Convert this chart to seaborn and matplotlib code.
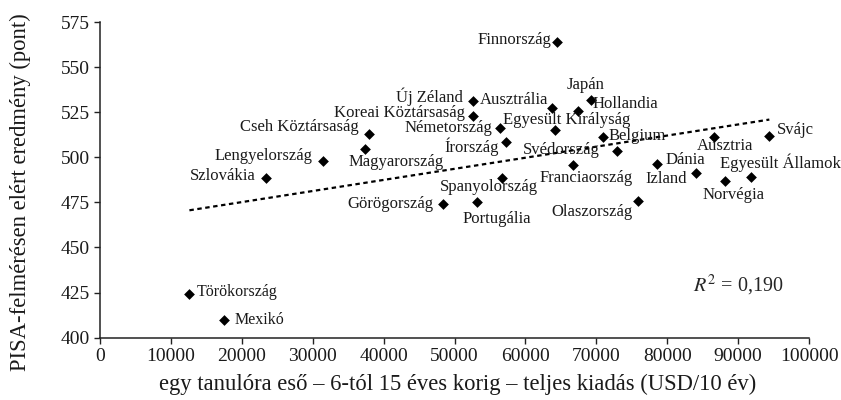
import matplotlib
matplotlib.use("Agg")
import matplotlib.pyplot as plt
import seaborn as sns
import pandas as pd

# --- data ---
countries = [
    "Finnország", "Japán", "Hollandia", "Ausztrália", "Új Zéland",
    "Koreai Köztársaság", "Cseh Köztársaság", "Magyarország", "Lengyelország",
    "Szlovákia", "Németország", "Egyesült Királyság", "Írország", "Belgium",
    "Svédország", "Franciaország", "Spanyolország", "Portugália", "Görögország",
    "Olaszország", "Dánia", "Izland", "Norvégia", "Egyesült Államok",
    "Ausztria", "Svájc", "Törökország", "Mexikó",
]
spending = [
    64500, 69300, 67400, 63800, 52600,
    52600, 37900, 37300, 31400,
    23400, 56400, 64100, 57300, 70900,
    72900, 66700, 56700, 53200, 48400,
    75900, 78600, 84000, 88200, 91800,
    86600, 94400, 12600, 17500,
]
score = [
    564, 532, 525.5, 527.5, 531,
    523, 513, 504.5, 498,
    488.5, 516, 515, 508.5, 511,
    503.5, 495.5, 488.5, 475, 474,
    475.5, 496.5, 491, 487, 489,
    511.5, 512, 424, 410,
]
r2_text = "$R^2$ = 0,190"

df = pd.DataFrame({"country": countries, "spending": spending, "score": score})

# label placement: (ha, dx px, dy px)
label_pos = {
    "Finnország": ("right", -6, 2), "Japán": ("center", -6, 15),
    "Hollandia": ("left", 15, 7), "Ausztrália": ("right", -4, 8),
    "Új Zéland": ("right", -10, 5), "Koreai Köztársaság": ("right", -8, 3),
    "Cseh Köztársaság": ("right", -10, 7), "Magyarország": ("left", -16, -13),
    "Lengyelország": ("right", -10, 5), "Szlovákia": ("right", -10, 2),
    "Németország": ("right", -8, 0), "Egyesült Királyság": ("center", 12, 10),
    "Írország": ("right", -7, -5), "Belgium": ("left", 6, 1),
    "Svédország": ("right", -17, 1), "Franciaország": ("center", 13, -13),
    "Spanyolország": ("center", -13, -9), "Portugália": ("center", 20, -17),
    "Görögország": ("right", -10, 0), "Olaszország": ("right", -6, -11),
    "Dánia": ("left", 8, 4), "Izland": ("right", -9, -6),
    "Norvégia": ("center", 8, -14), "Egyesült Államok": ("center", 30, 14),
    "Ausztria": ("center", 11, -9), "Svájc": ("left", 8, 6),
    "Törökország": ("left", 7, 2), "Mexikó": ("left", 10, 0),
}

sns.set_style("ticks")
plt.rcParams["font.family"] = ["Liberation Serif", "DejaVu Serif"]
plt.rcParams["mathtext.fontset"] = "stix"

fig, ax = plt.subplots(figsize=(8.41, 4.0), dpi=100)
fig.subplots_adjust(left=0.119, right=0.962, top=0.945, bottom=0.156)

sns.regplot(data=df, x="spending", y="score", ax=ax, scatter=False, ci=None,
            truncate=True, color="black",
            line_kws={"linestyle": (0, (2, 1.6)), "linewidth": 1.6})
sns.scatterplot(data=df, x="spending", y="score", ax=ax, marker="D",
                color="black", s=30, edgecolor="black", linewidth=0, zorder=3)

px = 0.72  # points per pixel at dpi 100
for _, row in df.iterrows():
    ha, dx, dy = label_pos[row["country"]]
    small = row["country"] in ("Törökország", "Mexikó")
    ax.annotate(row["country"], (row["spending"], row["score"]),
                xytext=(dx * px, dy * px), textcoords="offset points",
                ha=ha, va="center", fontsize=11.5 if small else 12,
                color="#1a1a1a")

ax.text(83600, 429, r2_text, fontsize=14.5, ha="left", va="center")

ax.set_xlim(0, 100000)
ax.set_ylim(400, 575)
ax.set_xticks(range(0, 100001, 10000))
ax.set_yticks(range(400, 576, 25))
ax.tick_params(labelsize=14, length=4, width=1, direction="out", color="#222222",
               labelcolor="#1a1a1a")
ax.set_xlabel("egy tanulóra eső – 6-tól 15 éves korig – teljes kiadás (USD/10 év)",
              fontsize=16.3, color="#1a1a1a")
ax.xaxis.set_label_coords(0.505, -0.115)
ax.set_ylabel("PISA-felmérésen elért eredmény (pont)", fontsize=16.3,
              color="#1a1a1a")
ax.yaxis.set_label_coords(-0.098, 0.46)
sns.despine(ax=ax)
for s in ("left", "bottom"):
    ax.spines[s].set_linewidth(1.1)
    ax.spines[s].set_color("#222222")

fig.savefig("out.png", dpi=100)
